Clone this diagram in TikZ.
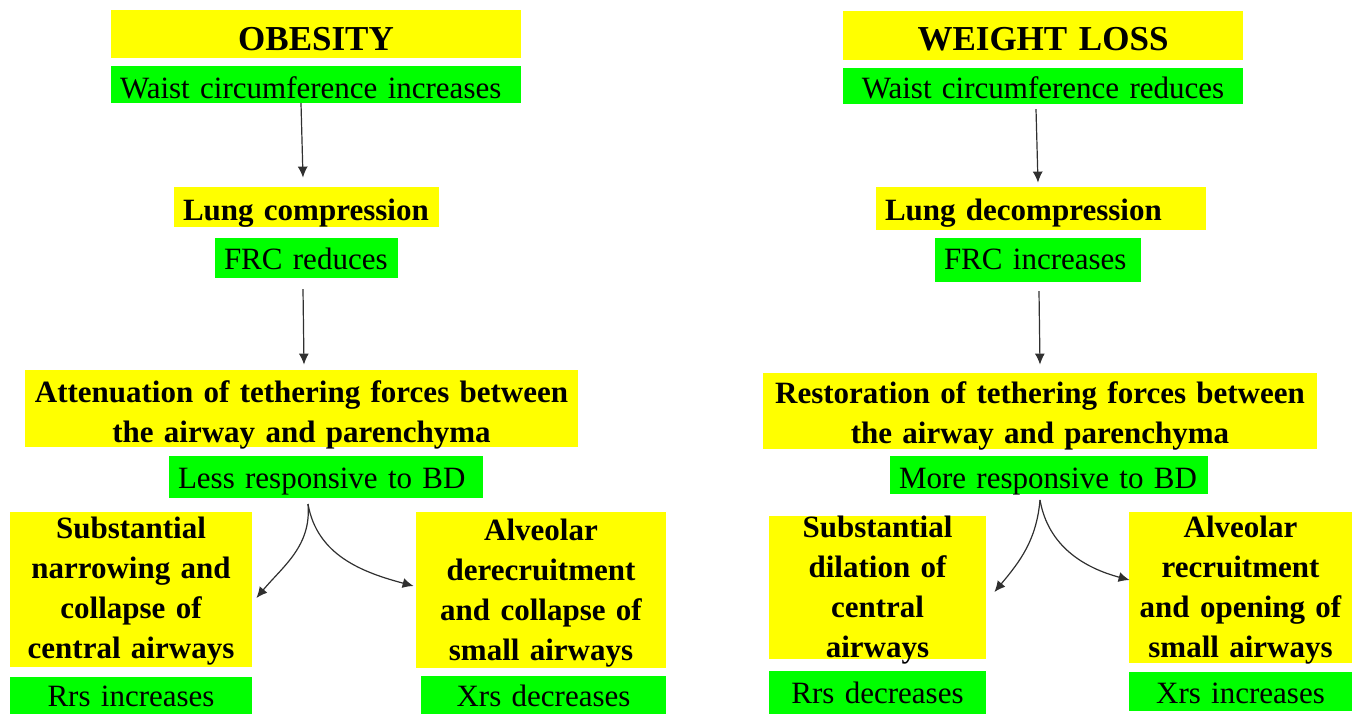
\documentclass[tikz,border=0pt]{standalone}
\usepackage{fontspec}
\setmainfont{Liberation Serif}
\usepackage{tikz}
\usetikzlibrary{positioning,arrows.meta}
\definecolor{boxyellow}{HTML}{FFFF00}
\definecolor{boxgreen}{HTML}{00FF00}
\definecolor{arrowink}{HTML}{303030}

\begin{document}
\begin{tikzpicture}[
  x=0.5pt, y=-0.5pt,
  ybox/.style={fill=boxyellow,inner xsep=4.5pt,inner ysep=0pt,
               font=\fontsize{15.5}{20}\selectfont\bfseries},
  gbox/.style={fill=boxgreen,inner xsep=4.5pt,inner ysep=0pt,
               font=\fontsize{15.5}{20}\selectfont},
  head/.style={ybox,align=center,font=\fontsize{17.5}{20}\selectfont\bfseries},
  boxfit/.style 2 args={text height=#2,text depth=#1-#2},
  arr/.style={-{Latex[length=5.5pt,width=5pt]},arrowink,line width=0.6pt}
]
\useasboundingbox (0,0) rectangle (1360,713);

% obesity side
\node[head,text width=196pt,boxfit={24pt}{20pt}] (obes) at (316,34) {OBESITY};
\node[gbox,below=3.5pt of obes,text width=196pt,boxfit={18.5pt}{16.5pt},align=left] (waistL)
  {Waist circumference increases};
\node[ybox,text width=123.5pt,boxfit={20pt}{16.5pt},align=left] (lungL) at (306.5,207)
  {Lung compression};
\node[gbox,below=5pt of lungL,text width=82.5pt,boxfit={20pt}{16pt},align=left] (frcL)
  {FRC reduces};
\node[ybox,text width=267.5pt,boxfit={38.5pt}{16pt},align=center] (attn) at (301.5,408.5)
  {Attenuation of tethering forces between\\ the airway and parenchyma};
\node[gbox,below=4pt of attn,xshift=12.25pt,text width=148pt,boxfit={21pt}{16.5pt},align=left] (lessBD)
  {Less responsive to BD};
\node[ybox,text width=112pt,boxfit={77.5pt}{13pt},align=center] (narrow) at (131,589.5)
  {Substantial\\ narrowing and\\ collapse of\\ central airways};
\node[gbox,below=4.5pt of narrow,text width=112pt,boxfit={18.5pt}{15pt},align=center] (rrsL)
  {Rrs increases};
\node[ybox,text width=116pt,boxfit={78pt}{14pt},align=center] (derec) at (541,590)
  {Alveolar\\ derecruitment\\ and collapse of\\ small airways};
\node[gbox,below=3.5pt of derec,xshift=1.25pt,text width=113.5pt,boxfit={19pt}{15.5pt},align=center] (xrsL)
  {Xrs decreases};

% weight loss side
\node[head,text width=191pt,boxfit={24.5pt}{19.5pt}] (wloss) at (1043,35.5) {WEIGHT LOSS};
\node[gbox,below=3.5pt of wloss,text width=191pt,boxfit={18pt}{15.5pt},align=center] (waistR)
  {Waist circumference reduces};
\node[ybox,text width=156pt,boxfit={21.5pt}{16.5pt},align=left] (lungR) at (1041,208.5)
  {Lung decompression};
\node[gbox,below=3.5pt of lungR,xshift=-1.5pt,text width=94pt,boxfit={22pt}{16pt},align=left] (frcR)
  {FRC increases};
\node[ybox,text width=268pt,boxfit={38pt}{15pt},align=center] (resto) at (1040,411)
  {Restoration of tethering forces between\\ the airway and parenchyma};
\node[gbox,below=3pt of resto,xshift=4.5pt,text width=150pt,boxfit={19pt}{16.5pt},align=left] (moreBD)
  {More responsive to BD};
\node[ybox,text width=99.5pt,boxfit={71.5pt}{10.5pt},align=center] (dilat) at (877.5,587.5)
  {Substantial\\ dilation of\\ central\\ airways};
\node[gbox,below=5.5pt of dilat,text width=99.5pt,boxfit={21.5pt}{16.5pt},align=center] (rrsR)
  {Rrs decreases};
\node[ybox,text width=102.5pt,boxfit={75.5pt}{12.5pt},align=center] (recru) at (1240.5,587.5)
  {Alveolar\\ recruitment\\ and opening of\\ small airways};
\node[gbox,below=4pt of recru,text width=102.5pt,boxfit={19.5pt}{16pt},align=center] (xrsR)
  {Xrs increases};

\coordinate (forkL) at (308,504);
\coordinate (forkR) at (1040,500);

\draw[arr] ([xshift=-7.5pt]waistL.south) -- ([xshift=-1.75pt,yshift=4.5pt]lungL.north);
\draw[arr] ([xshift=-1.75pt,yshift=-5.5pt]frcL.south) -- ([xshift=1.25pt,yshift=2.5pt]attn.north);
\draw[arr] (forkL) to[out=-85,in=50] ([xshift=2pt,yshift=-4.25pt]narrow.east);
\draw[arr] (forkL) to[out=-80,in=165] ([xshift=-1pt,yshift=2pt]derec.west);

\draw[arr] ([xshift=-3.5pt,yshift=-2.5pt]waistR.south) -- ([xshift=-1.5pt,yshift=2pt]lungR.north);
\draw[arr] ([xshift=0.5pt,yshift=-4.5pt]frcR.south) -- ([yshift=4pt]resto.north);
\draw[arr] (forkR) to[out=-95,in=50] ([xshift=4pt,yshift=-2.25pt]dilat.east);
\draw[arr] (forkR) to[out=-80,in=165] ([xshift=0.5pt,yshift=3.75pt]recru.west);
\end{tikzpicture}
\end{document}
